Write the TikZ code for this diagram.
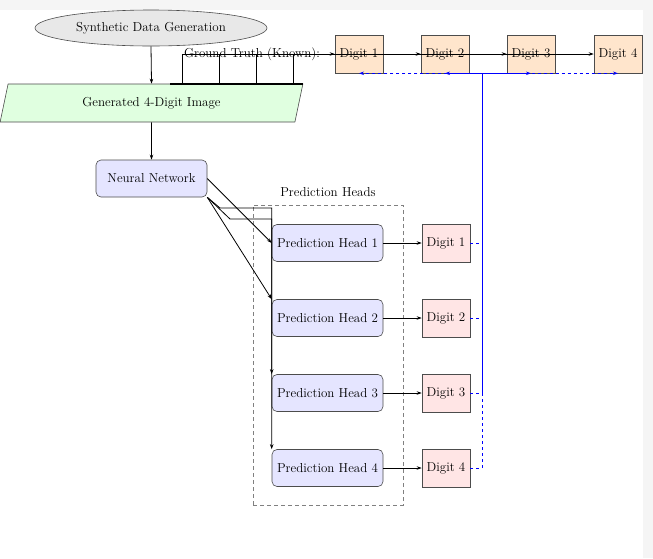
\documentclass[tikz,border=0pt]{standalone}
\usetikzlibrary{shapes.geometric,arrows.meta,calc}
\begin{document}
\begin{tikzpicture}[x=1pt,y=-1pt,
  every node/.style={font=\fontsize{13}{15}\selectfont},
  conn/.style={line width=0.8pt,-{Stealth[length=5pt,width=3.5pt]}},
  gtline/.style={blue,line width=0.9pt,dash pattern=on 3pt off 3pt,-{Stealth[length=5pt,width=3.5pt]}},
  headbox/.style={draw=black!70,line width=0.6pt,rounded corners=5pt,fill=blue!10,minimum width=111pt,minimum height=37pt,inner sep=0pt},
  gtdigit/.style={draw=black!70,line width=0.6pt,fill=orange!20,minimum width=48pt,minimum height=38pt,inner sep=0pt},
  pddigit/.style={draw=black!70,line width=0.6pt,fill=red!10,minimum width=48pt,minimum height=38pt,inner sep=0pt}]
\fill[black!4] (0,0) rectangle (653,558);
\fill[white] (0,10) rectangle (643,558);
\useasboundingbox (0,0) rectangle (653,558);

\node[ellipse,draw=black!70,line width=0.6pt,fill=gray!18,minimum width=232pt,minimum height=36pt,inner sep=0pt] (gen) at (151,28) {Synthetic Data Generation};
\node[trapezium,trapezium left angle=72,trapezium right angle=108,trapezium stretches=true,draw=black!70,line width=0.6pt,fill=green!12,minimum width=303pt,minimum height=38pt,inner sep=0pt] (img) at (151.5,103) {Generated 4-Digit Image};
\node[headbox] (nn) at (151.5,178.5) {Neural Network};

\node (gtlabel) at (252,54) {Ground Truth (Known):};
\node[gtdigit] (gt1) at (359,54) {Digit 1};
\node[gtdigit] (gt2) at (445,54) {Digit 2};
\node[gtdigit] (gt3) at (531,54) {Digit 3};
\node[gtdigit] (gt4) at (618,54) {Digit 4};

\node[draw=gray,line width=0.7pt,dash pattern=on 4pt off 3pt,minimum width=150pt,minimum height=300pt,inner sep=0pt] (phbox) at (328,355) {};
\node (phlabel) at (328,192) {Prediction Heads};

\foreach \i/\y in {1/243,2/318,3/393,4/468}{
  \node[headbox] (ph\i) at (327.5,\y) {Prediction Head \i};
  \node[pddigit] (pd\i) at (446,\y) {Digit \i};
  \draw[conn] (ph\i.east) -- (pd\i.west);
}

\draw[conn] (gen.south) -- (img.north);
\draw[conn] (img.south) -- (nn.north);

% ground truth connectors
\coordinate (g1) at (182,84);
\coordinate (g2) at (219,84);
\coordinate (g3) at (256,84);
\coordinate (g4) at (293,84);
\coordinate (gl) at (170,84);
\coordinate (gr) at (303,84);
\draw[line width=1.5pt] (gl) -- (gr);
\draw[conn] (g1) |- (gt1.west);
\draw[conn] (g2) |- (gt2.west);
\draw[conn] (g3) |- (gt3.west);
\draw[conn] (g4) |- (gt4.west);

% network to heads
\coordinate (k4) at (220,208);
\coordinate (k3) at (230,219);
\draw[conn] (nn.east) -- (ph1.west);
\draw[conn] (nn.south east) -- (ph2.north west);
\draw[conn] (nn.south east) -- (k3) -| (ph3.north west);
\draw[conn] (nn.south east) -- (k4) -| (ph4.north west);

% comparison connectors
\coordinate (bus) at (482,0);
\draw[gtline] (pd1.east) -| (bus |- gt1.south) -- (gt1.south);
\draw[gtline] (pd2.east) -| (bus |- gt2.south) -- (gt2.south);
\draw[gtline] (pd3.east) -| (bus |- gt3.south) -- (gt3.south);
\draw[gtline] (pd4.east) -| (bus |- gt4.south) -- (gt4.south);
\end{tikzpicture}
\end{document}
